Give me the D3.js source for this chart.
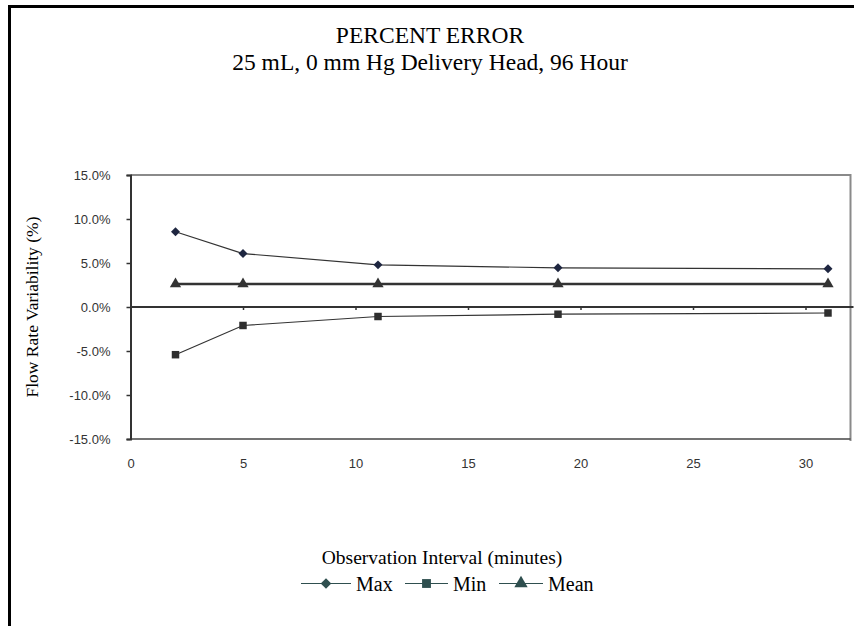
<!DOCTYPE html>
<html>
<head>
<meta charset="utf-8">
<script src="https://cdn.jsdelivr.net/npm/d3@7"></script>
<style>
body { margin: 0; background: #fff; }
svg { display: block; }
</style>
</head>
<body>
<svg id="chart" width="854" height="626"></svg>
<script>
const intervals = [2, 5, 11, 19, 31];
const maxValues = [0.0855, 0.0607, 0.0479, 0.0445, 0.0434];
const minValues = [-0.0542, -0.0210, -0.0108, -0.0082, -0.0068];
const meanValues = [0.026, 0.026, 0.026, 0.026, 0.026];
const yTicks = [-0.15, -0.10, -0.05, 0, 0.05, 0.10, 0.15];
const xTicks = [0, 5, 10, 15, 20, 25, 30];
const seriesNames = ["Max", "Min", "Mean"];
const titleLines = ["PERCENT ERROR", "25 mL, 0 mm Hg Delivery Head, 96 Hour"];
const xTitle = "Observation Interval (minutes)";
const yTitle = "Flow Rate Variability (%)";

const svg = d3.select("#chart");
const serif = "'Liberation Serif', 'Times New Roman', serif";
const sans = "'Liberation Sans', Arial, sans-serif";

// outer frame
svg.append("rect").attr("x", 9.5).attr("y", 6.5).attr("width", 900).attr("height", 700)
  .attr("fill", "none").attr("stroke", "#000").attr("stroke-width", 3);

const L = 130.5, R = 850.5, T = 175, B = 439;
const x = d3.scaleLinear().domain([0, 32]).range([L, R]);
const y = d3.scaleLinear().domain([-0.15, 0.15]).range([B, T]);

// titles
const titleX = 430;
svg.append("text").attr("x", titleX).attr("y", 43).attr("text-anchor", "middle")
  .attr("font-family", serif).attr("font-size", 23.5).attr("fill", "#000").text(titleLines[0]);
svg.append("text").attr("x", titleX).attr("y", 70).attr("text-anchor", "middle")
  .attr("font-family", serif).attr("font-size", 23.5).attr("fill", "#000").text(titleLines[1]);

// plot area borders
svg.append("line").attr("x1", L).attr("x2", R).attr("y1", T).attr("y2", T)
  .attr("stroke", "#8a8a8a").attr("stroke-width", 2);
svg.append("line").attr("x1", R).attr("x2", R).attr("y1", T - 1).attr("y2", B + 2)
  .attr("stroke", "#8a8a8a").attr("stroke-width", 2);
svg.append("line").attr("x1", L).attr("x2", R).attr("y1", B).attr("y2", B)
  .attr("stroke", "#444").attr("stroke-width", 1.5);

// y axis
const pct = d3.format(".1f");
const yAxis = d3.axisLeft(y).tickValues(yTicks).tickSize(4).tickPadding(16)
  .tickFormat(d => pct(d * 100).replace("\u2212", "-") + "%");
const gy = svg.append("g").attr("transform", `translate(${L},0)`).call(yAxis);
gy.select(".domain").attr("stroke", "#333").attr("stroke-width", 2);
gy.selectAll(".tick line").attr("stroke", "#333").attr("stroke-width", 1.5);
gy.selectAll(".tick text").attr("font-family", sans).attr("font-size", 13).attr("fill", "#333");

// x axis at zero with ticks, labels at bottom
const xAxis = d3.axisBottom(x).tickValues(xTicks).tickSize(3).tickFormat("");
const gx = svg.append("g").attr("transform", `translate(0,${y(0)})`).call(xAxis);
gx.select(".domain").attr("stroke", "#333").attr("stroke-width", 2).attr("d", `M${L},0H${R + 3}`);
gx.selectAll(".tick line").attr("stroke", "#333").attr("stroke-width", 1.5);
gx.selectAll(".tick").filter(d => d === 0).remove();

const gxl = svg.append("g").attr("transform", `translate(0,${B})`)
  .call(d3.axisBottom(x).tickValues(xTicks).tickSize(0).tickPadding(20));
gxl.select(".domain").remove();
gxl.selectAll(".tick text").attr("font-family", sans).attr("font-size", 13).attr("fill", "#333");

// axis titles
svg.append("text").attr("transform", `translate(38,${(T + B) / 2}) rotate(-90)`)
  .attr("text-anchor", "middle").attr("font-family", serif).attr("font-size", 17.5)
  .attr("fill", "#000").text(yTitle);
svg.append("text").attr("x", 442).attr("y", 564).attr("text-anchor", "middle")
  .attr("font-family", serif).attr("font-size", 19.5).attr("fill", "#000").text(xTitle);

// series
const line = d3.line().x(d => x(d[0])).y(d => y(d[1]));
const diamond = { draw(ctx, size) { const r = Math.sqrt(size / 2); ctx.moveTo(0, -r); ctx.lineTo(r, 0); ctx.lineTo(0, r); ctx.lineTo(-r, 0); ctx.closePath(); } };
const series = [
  { name: seriesNames[0], values: maxValues, width: 1.2, marker: diamond, size: 40, fill: "#1e2640" },
  { name: seriesNames[1], values: minValues, width: 1.2, marker: d3.symbolSquare, size: 56, fill: "#2e2e2e" },
  { name: seriesNames[2], values: meanValues, width: 2.5, marker: d3.symbolTriangle, size: 55, fill: "#333" }
];
series.forEach(s => {
  const pts = intervals.map((v, i) => [v, s.values[i]]);
  svg.append("path").attr("d", line(pts)).attr("fill", "none")
    .attr("stroke", "#333").attr("stroke-width", s.width);
  svg.append("g").selectAll("path").data(pts).join("path")
    .attr("transform", d => `translate(${x(d[0])},${y(d[1])})`)
    .attr("d", d3.symbol(s.marker, s.size)).attr("fill", s.fill);
});

// legend
const legendItems = [
  { x1: 301, x2: 351, tx: 356 },
  { x1: 405, x2: 448, tx: 453 },
  { x1: 499, x2: 543, tx: 548 }
];
series.forEach((s, i) => {
  const it = legendItems[i];
  const ly = 583.5;
  svg.append("line").attr("x1", it.x1).attr("x2", it.x2).attr("y1", ly).attr("y2", ly)
    .attr("stroke", "#2f4f4f").attr("stroke-width", 1.2);
  svg.append("path").attr("transform", `translate(${(it.x1 + it.x2) / 2},${ly})`)
    .attr("d", d3.symbol(s.marker, s.size * 1.4)).attr("fill", "#2f4f4f");
  svg.append("text").attr("x", it.tx).attr("y", 591).attr("font-family", serif)
    .attr("font-size", 20).attr("fill", "#000").text(s.name);
});
</script>
</body>
</html>
